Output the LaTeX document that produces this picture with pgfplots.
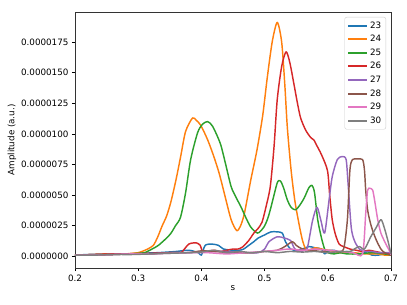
\documentclass[border=0pt]{standalone}
\usepackage{pgfplots}
\pgfplotsset{compat=1.18}
\usepackage{fontspec}
\setmainfont{DejaVu Sans}
\definecolor{c23}{HTML}{1F77B4}
\definecolor{c24}{HTML}{FF7F0E}
\definecolor{c25}{HTML}{2CA02C}
\definecolor{c26}{HTML}{D62728}
\definecolor{c27}{HTML}{9467BD}
\definecolor{c28}{HTML}{8C564B}
\definecolor{c29}{HTML}{E377C2}
\definecolor{c30}{HTML}{7F7F7F}
\tikzset{ln/.style={line width=1.45bp, line join=round, smooth, tension=0.45}}
\begin{document}
\begin{tikzpicture}
\begin{axis}[
  scale only axis,
  width=316bp, height=256bp,
  xmin=0.2, xmax=0.7, ymin=-0.95, ymax=19.95,
  xtick={0.2,0.3,0.4,0.5,0.6,0.7},
  xticklabels={0.2,0.3,0.4,0.5,0.6,0.7},
  ytick={0,2.5,5,7.5,10,12.5,15,17.5},
  yticklabels={0.0000000,0.0000025,0.0000050,0.0000075,0.0000100,0.0000125,0.0000150,0.0000175},
  /pgf/number format/assume math mode=true,
  xtick pos=bottom, ytick pos=left, tick align=outside,
  major tick length=3bp,
  tick style={black, line width=0.6bp},
  axis line style={line width=0.6bp, black!80},
  font=\fontsize{8.8}{10.5}\selectfont,
  tick label style={font=\fontsize{8.8}{10.5}\selectfont},
  xlabel={s}, ylabel={Amplitude (a.u.)},
  xlabel style={yshift=2bp},
  ylabel style={yshift=-2bp},
  legend cell align=left,
  legend style={at={(1,1)}, anchor=north east, xshift=-5bp, yshift=-5bp,
    draw=black!20, rounded corners=2bp, fill=white, fill opacity=0.8, text opacity=1, draw opacity=1,
    font=\fontsize{8.8}{10.5}\selectfont, row sep=1.6bp, inner sep=2.5bp},
  legend image code/.code={\draw[#1, sharp plot, line width=1.9bp, opacity=1] (0bp,0bp) -- (19bp,0bp);},
]
\addplot[c23, ln] coordinates {(0.2,0.1)(0.22,0.15)(0.25,0.2)(0.28,0.2)(0.3,0.25)(0.33,0.3)(0.36,0.4)(0.38,0.5)(0.395,0.3)(0.40,0.1)(0.406,0.9)(0.417,1.0)(0.427,0.9)(0.435,0.6)(0.45,0.5)(0.46,0.5)(0.467,0.6)(0.475,0.9)(0.483,1.2)(0.49,1.5)(0.50,1.75)(0.51,2.0)(0.52,2.0)(0.528,1.9)(0.533,1.2)(0.541,0.6)(0.55,0.5)(0.56,0.6)(0.57,0.8)(0.58,0.7)(0.59,0.6)(0.595,0.2)(0.60,0.4)(0.61,0.5)(0.62,0.3)(0.63,0.4)(0.64,0.3)(0.65,0.2)(0.66,0.3)(0.67,0.1)(0.68,0.1)(0.69,0.2)(0.70,0.1)};
\addlegendentry{23}
\addplot[c24, ln] coordinates {(0.2,0.1)(0.23,0.15)(0.26,0.2)(0.28,0.2)(0.29,0.25)(0.30,0.3)(0.306,0.4)(0.315,0.6)(0.324,0.9)(0.331,1.6)(0.338,2.5)(0.345,3.3)(0.352,4.5)(0.36,6.3)(0.367,8.1)(0.375,10.2)(0.386,11.3)(0.392,11.1)(0.399,10.7)(0.41,9.5)(0.42,8.1)(0.428,6.8)(0.436,5.2)(0.447,3.0)(0.456,2.1)(0.462,2.5)(0.468,3.5)(0.478,6.2)(0.488,8.7)(0.497,11.5)(0.504,14.5)(0.512,17.5)(0.52,19.1)(0.527,17.5)(0.532,14)(0.536,10.5)(0.542,7)(0.548,4.5)(0.555,2.5)(0.56,1.3)(0.565,0.6)(0.57,0.5)(0.58,0.7)(0.59,0.6)(0.6,0.5)(0.61,0.4)(0.62,0.3)(0.64,0.3)(0.66,0.2)(0.68,0.2)(0.69,0.1)(0.70,0.1)};
\addlegendentry{24}
\addplot[c25, ln] coordinates {(0.2,0.1)(0.23,0.1)(0.26,0.15)(0.29,0.2)(0.30,0.25)(0.31,0.3)(0.322,0.6)(0.332,0.9)(0.345,1.5)(0.352,1.9)(0.359,2.5)(0.367,3.2)(0.375,5.2)(0.383,7.9)(0.394,10.1)(0.402,10.8)(0.41,11.0)(0.418,10.6)(0.43,9.2)(0.438,7.6)(0.447,5.7)(0.455,4.8)(0.463,4.0)(0.47,3.2)(0.478,2.4)(0.489,1.9)(0.499,2.4)(0.505,3.1)(0.51,4.0)(0.52,6.0)(0.525,6.15)(0.53,5.6)(0.536,4.6)(0.542,4.0)(0.549,3.8)(0.556,4.2)(0.563,4.8)(0.57,5.6)(0.575,5.8)(0.579,5.2)(0.584,3.0)(0.59,1.5)(0.595,0.6)(0.60,0.3)(0.61,0.2)(0.62,0.3)(0.63,0.2)(0.65,0.2)(0.67,0.3)(0.69,0.2)(0.70,0.1)};
\addlegendentry{25}
\addplot[c26, ln] coordinates {(0.2,0.1)(0.23,0.15)(0.26,0.2)(0.29,0.2)(0.32,0.25)(0.35,0.3)(0.362,0.3)(0.369,0.35)(0.38,1.0)(0.392,1.1)(0.398,0.9)(0.402,0.4)(0.41,0.4)(0.42,0.5)(0.43,0.4)(0.44,0.5)(0.45,0.6)(0.458,0.6)(0.465,0.76)(0.475,1.3)(0.483,1.9)(0.49,2.3)(0.496,2.8)(0.502,4.0)(0.509,5.7)(0.515,9.0)(0.52,12.8)(0.527,15.5)(0.534,16.7)(0.54,15.8)(0.547,13.9)(0.552,12.5)(0.557,11.3)(0.565,10.3)(0.573,9.7)(0.578,9.5)(0.581,9.2)(0.59,8.3)(0.5995,7.0)(0.603,5.0)(0.607,3.0)(0.612,1.8)(0.618,1.0)(0.625,0.8)(0.635,0.6)(0.645,0.5)(0.655,0.4)(0.665,0.5)(0.675,0.4)(0.685,0.3)(0.70,0.2)};
\addlegendentry{26}
\addplot[c27, ln] coordinates {(0.2,0.1)(0.23,0.1)(0.26,0.15)(0.29,0.2)(0.32,0.2)(0.35,0.3)(0.38,0.3)(0.41,0.4)(0.44,0.4)(0.47,0.3)(0.49,0.3)(0.50,0.6)(0.507,1.2)(0.52,1.6)(0.531,1.5)(0.541,1.3)(0.546,0.76)(0.55,0.5)(0.557,0.4)(0.563,0.5)(0.568,0.76)(0.576,2.95)(0.583,4.0)(0.589,2.95)(0.595,1.9)(0.602,4.6)(0.607,6.5)(0.615,7.9)(0.623,8.15)(0.629,7.9)(0.632,6.0)(0.637,2.4)(0.642,1.3)(0.65,0.6)(0.66,0.4)(0.67,0.4)(0.68,0.3)(0.69,0.3)(0.70,0.3)};
\addlegendentry{27}
\addplot[c28, ln] coordinates {(0.2,0.1)(0.23,0.1)(0.26,0.15)(0.29,0.2)(0.32,0.2)(0.35,0.3)(0.38,0.3)(0.40,0.45)(0.42,0.4)(0.45,0.3)(0.48,0.3)(0.50,0.4)(0.52,0.5)(0.532,0.8)(0.544,1.2)(0.55,0.9)(0.56,0.6)(0.575,0.5)(0.59,0.4)(0.605,0.5)(0.615,0.4)(0.625,0.6)(0.631,3.0)(0.635,7.05)(0.639,7.9)(0.647,7.95)(0.655,7.9)(0.658,7.05)(0.66,5.4)(0.663,3.8)(0.667,2.8)(0.671,2.1)(0.677,1.3)(0.684,0.6)(0.69,0.3)(0.70,0.1)};
\addlegendentry{28}
\addplot[c29, ln] coordinates {(0.2,0.1)(0.23,0.1)(0.26,0.15)(0.29,0.2)(0.32,0.2)(0.35,0.25)(0.38,0.3)(0.41,0.3)(0.44,0.2)(0.47,0.3)(0.50,0.4)(0.52,0.5)(0.54,0.6)(0.56,0.5)(0.58,0.6)(0.60,0.5)(0.62,0.4)(0.64,0.3)(0.655,0.2)(0.660,3.5)(0.663,5.4)(0.667,5.55)(0.671,5.4)(0.674,4.6)(0.679,3.0)(0.684,1.9)(0.692,1.0)(0.699,0.3)(0.70,0.1)};
\addlegendentry{29}
\addplot[c30, ln] coordinates {(0.2,0.1)(0.23,0.1)(0.26,0.15)(0.29,0.15)(0.32,0.2)(0.35,0.25)(0.38,0.3)(0.40,0.35)(0.42,0.5)(0.44,0.3)(0.46,0.4)(0.48,0.3)(0.50,0.4)(0.52,0.3)(0.54,0.4)(0.56,0.35)(0.58,0.4)(0.60,0.3)(0.62,0.4)(0.635,0.4)(0.642,0.6)(0.65,0.8)(0.658,0.6)(0.668,1.6)(0.676,2.3)(0.684,3.0)(0.689,2.4)(0.695,1.3)(0.70,0.2)};
\addlegendentry{30}
\end{axis}
\pgfresetboundingbox
\path[use as bounding box] ([shift={(-75bp,-37bp)}]current axis.south west) rectangle ([shift={(16bp,12bp)}]current axis.north east);
\end{tikzpicture}
\end{document}
